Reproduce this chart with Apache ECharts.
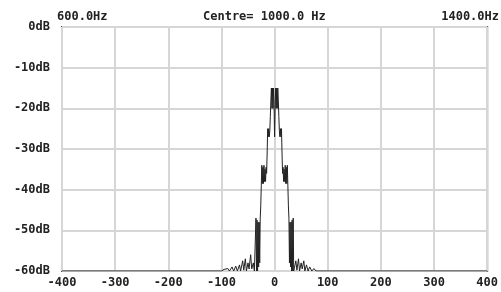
<!DOCTYPE html>
<html>
<head>
<meta charset="utf-8">
<script src="https://cdn.jsdelivr.net/npm/echarts@6/dist/echarts.min.js"></script>
<style>
  html, body { margin: 0; padding: 0; background: #fff; }
  #chart { width: 501px; height: 292px; }
</style>
</head>
<body>
<div id="chart"></div>
<script>
// offset from centre (Hz) and level (dB) of the spectrum trace
var freqHz = [
  -400, -100, -95, -92, -88, -85, -80, -77, -73, -70, -66, -64,
  -60, -58, -55, -53, -50, -48, -45, -43, -40, -38,
  -36, -35, -34, -33, -32, -31, -30, -29, -28,
  -27, -26, -25,
  -24, -23, -22, -21, -20, -19, -18, -17, -16, -15, -14,
  -13, -12, -11, -10, -9, -8,
  -7, -6, -5, -4, -3, -2, -1, 0, 1, 2, 3, 4, 5, 6, 7, 8,
  9, 10, 11, 12, 13,
  14, 15, 16, 17, 18, 19, 20, 21, 22, 23, 24,
  25, 26, 27,
  28, 29, 30, 31, 32, 33, 34, 35, 36,
  38, 40, 42, 45, 47, 50, 52, 55, 57, 60, 63, 66, 70, 74, 78, 81, 84, 400
]
var levelDb = [
  -60, -60, -59.6, -60, -59.4, -60, -59, -60, -58.8, -60, -58.5, -60,
  -57.5, -59.8, -57, -60, -58, -59.5, -56, -59.5, -58, -60,
  -60, -47, -60, -47.5, -60, -48, -59, -48, -58,
  -47, -44, -39,
  -34, -38.5, -34.5, -38.5, -34, -38, -35, -38, -34.5, -36, -31,
  -25, -27, -25, -27, -25.5, -22,
  -18, -15, -20, -15, -20, -15, -19, -27, -20, -15, -20, -15, -20, -15, -18, -22,
  -25.5, -27, -25, -27, -25,
  -31, -36, -34.5, -38, -35, -38, -34, -38.5, -34.5, -38.5, -34,
  -39, -44, -47,
  -58, -48, -59, -48, -60, -47.5, -60, -47, -60,
  -60, -57.5, -59.8, -57, -60, -58, -59.5, -57.5, -60, -58.5, -60, -59, -60, -59.4, -60, -59.6, -60, -60
]
var xTicks = [-400, 400, 100]
var yTicks = [-60, 0, 10]
var topLabels = ['600.0Hz', 'Centre= 1000.0 Hz', '1400.0Hz']

var trace = freqHz.map(function(f, i) { return [f, levelDb[i]] })
var font = 'DejaVu Sans Mono'

var chart = echarts.init(document.getElementById('chart'))
chart.setOption({
  animation: false,
  grid: {
    left: 62, right: 13, top: 27, bottom: 21,
    show: true,
    borderColor: '#555',
    borderWidth: 2
  },
  xAxis: {
    type: 'value',
    min: xTicks[0],
    max: xTicks[1],
    interval: xTicks[2],
    axisLine: { show: false },
    axisTick: { show: false },
    axisLabel: {
      color: '#222', fontFamily: font, fontWeight: 'bold', fontSize: 12, margin: 6,
      showMinLabel: true, showMaxLabel: true
    },
    splitLine: { lineStyle: { color: '#d6d6d6', width: 2 } }
  },
  yAxis: {
    type: 'value',
    min: yTicks[0],
    max: yTicks[1],
    interval: yTicks[2],
    axisLine: { show: false },
    axisTick: { show: false },
    axisLabel: {
      color: '#222', fontFamily: font, fontWeight: 'bold', fontSize: 12, margin: 12,
      formatter: function(v) { return v + 'dB' }
    },
    splitLine: { lineStyle: { color: '#d6d6d6', width: 2 } }
  },
  graphic: [
    { type: 'text', left: 57, top: 11,
      style: { text: topLabels[0], fill: '#222', font: 'bold 12px ' + font } },
    { type: 'text', left: 203, top: 11,
      style: { text: topLabels[1], fill: '#222', font: 'bold 12px ' + font } },
    { type: 'text', right: 2, top: 11,
      style: { text: topLabels[2], fill: '#222', font: 'bold 12px ' + font } }
  ],
  series: [{
    type: 'line',
    data: trace,
    showSymbol: false,
    lineStyle: { color: '#222', width: 1 }
  }]
})
</script>
</body>
</html>
